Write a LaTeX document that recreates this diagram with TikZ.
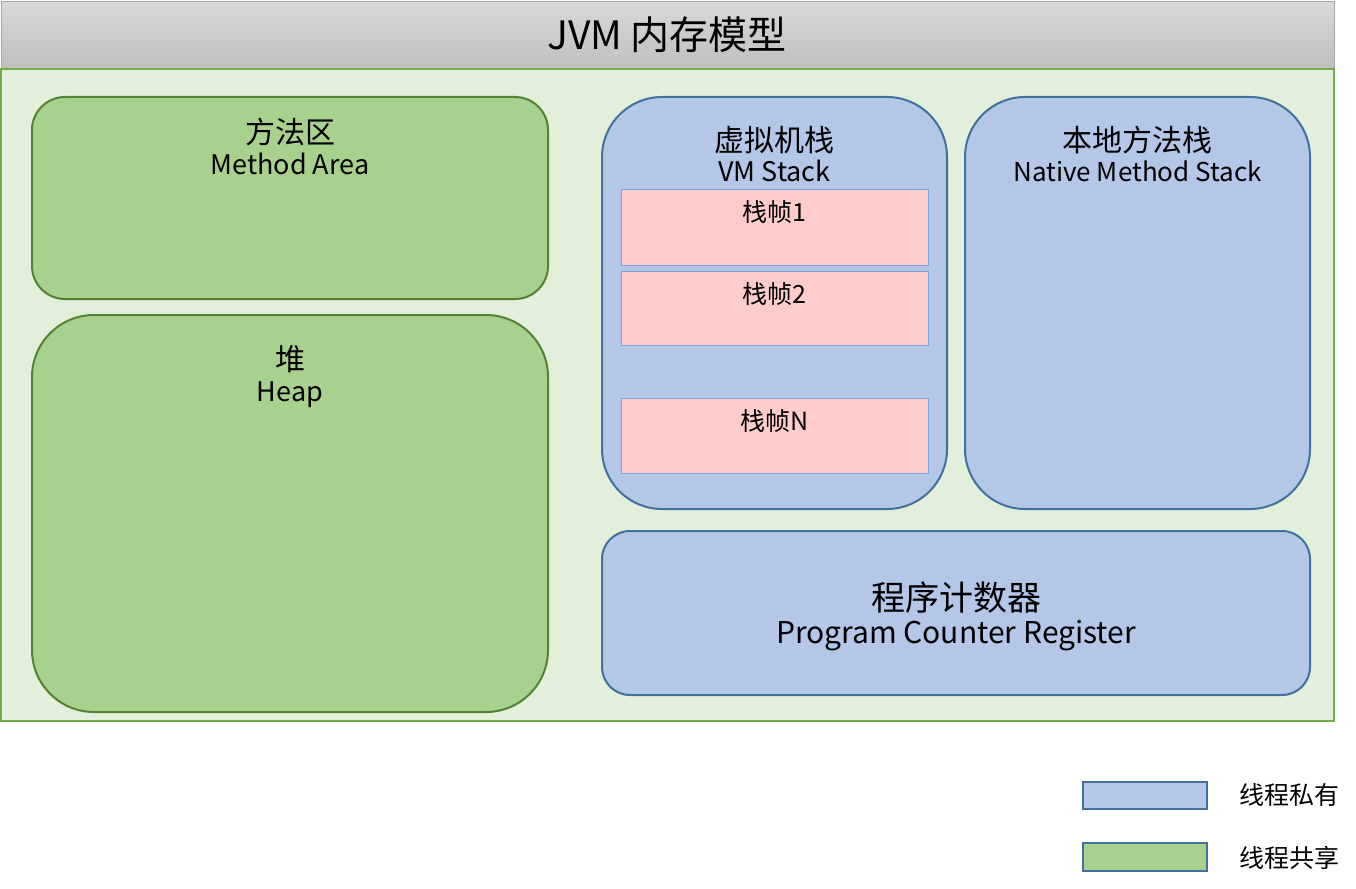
\documentclass[tikz,border=0pt]{standalone}
\usepackage{fontspec}
\setmainfont{Noto Sans CJK SC}
\usepackage{xcolor}
\definecolor{titletop}{HTML}{D8D8D8}
\definecolor{titlebot}{HTML}{BFBFBF}
\definecolor{titleedge}{HTML}{A6A6A6}
\definecolor{areafill}{HTML}{E2EFDA}
\definecolor{areaedge}{HTML}{70AD47}
\definecolor{sharefill}{HTML}{A9D18E}
\definecolor{shareedge}{HTML}{548235}
\definecolor{privfill}{HTML}{B4C7E7}
\definecolor{privedge}{HTML}{41719C}
\definecolor{framefill}{HTML}{FFCCCC}
\definecolor{frameedge}{HTML}{7BA3D6}

\begin{document}
\begin{tikzpicture}[x=1pt,y=-1pt,
  greenbox/.style={draw=shareedge, fill=sharefill, line width=2pt},
  bluebox/.style={draw=privedge, fill=privfill, line width=2pt},
  framebox/.style={draw=frameedge, fill=framefill, line width=1pt},
  keybox/.style={draw=privedge, line width=2.5pt},
  txt/.style={anchor=base, inner sep=0pt, font=\fontsize{#1}{#1}\selectfont},
  txt/.default=30]
\useasboundingbox (0,0) rectangle (1356,888);
% title bar and memory area
\shade[top color=titletop, bottom color=titlebot] (1,2) rectangle (1334,69);
\draw[titleedge, line width=1pt] (1,2) rectangle (1334,69);
\draw[draw=areaedge, fill=areafill, line width=1.2pt] (1,69) rectangle (1334,721);
\node[txt=39] (title) at (667,50) {JVM 内存模型};
% shared areas
\draw[greenbox, rounded corners=33pt] (32,97) rectangle (548,299);
\node[txt] (ma) at (290,143) {方法区};
\node[txt=27] (ma-en) at (290,174) {Method Area};
\draw[greenbox, rounded corners=62pt] (32,315) rectangle (548,712);
\node[txt] (heap) at (290,370) {堆};
\node[txt=27] (heap-en) at (290,401) {Heap};
% private areas
\draw[bluebox, rounded corners=60pt] (602,97) rectangle (947,509);
\node[txt] (vms) at (774.5,151) {虚拟机栈};
\node[txt=27] (vms-en) at (774.5,181) {VM Stack};
\draw[framebox] (621,189) rectangle (928,265);
\node[txt=25] (f1) at (774.5,221) {栈帧1};
\draw[framebox] (621,271) rectangle (928,345);
\node[txt=25] (f2) at (774.5,303) {栈帧2};
\draw[framebox] (621,398) rectangle (928,473);
\node[txt=25] (fn) at (774.5,430) {栈帧N};
\draw[bluebox, rounded corners=60pt] (965,97) rectangle (1310,509);
\node[txt] (nms) at (1137.5,151) {本地方法栈};
\node[txt=26] (nms-en) at (1137.5,181) {Native Method Stack};
\draw[bluebox, rounded corners=28pt] (602,531) rectangle (1310,695);
\node[txt=34] (pc) at (956,610) {程序计数器};
\node[txt=30] (pc-en) at (956,643) {Program Counter Register};
% legend
\draw[keybox, fill=privfill] (1083,782) rectangle (1207,809);
\node[txt=25, anchor=base west] (priv) at (1239,804) {线程私有};
\draw[keybox, fill=sharefill] (1083,843) rectangle (1207,871);
\node[txt=25, anchor=base west] (shared) at (1239,867) {线程共享};
\end{tikzpicture}
\end{document}
